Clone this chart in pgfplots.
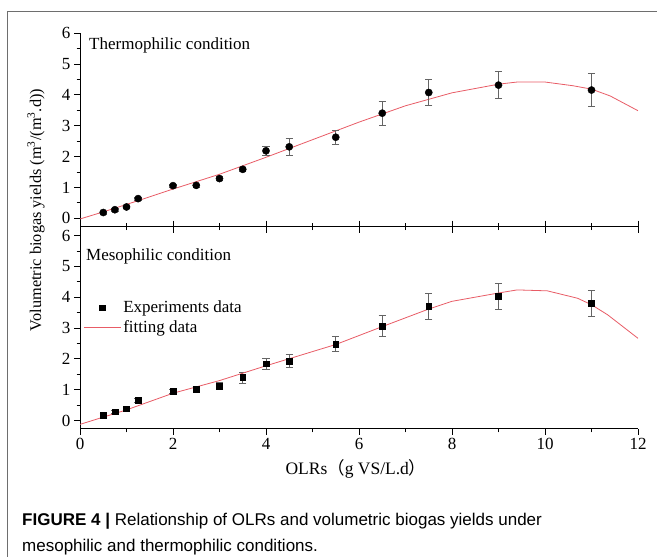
\documentclass[border=0pt]{standalone}
\usepackage{pgfplots}
\pgfplotsset{compat=1.18}
\usepackage{pgfplotstable}
\usepackage{fontspec}
\setmainfont{Liberation Serif}
\newfontfamily\capfont{Liberation Sans}
\newfontfamily\cjk{Noto Sans CJK SC}
\definecolor{fitred}{RGB}{232,92,102}
\definecolor{errgray}{RGB}{100,100,100}
\definecolor{framegray}{RGB}{110,110,110}

\pgfplotstableread{
x y e
0.5 0.19 0.05
0.75 0.28 0.05
1.0 0.37 0.05
1.25 0.64 0.05
2.0 1.06 0.05
2.5 1.07 0.05
3.0 1.29 0.06
3.5 1.59 0.07
4.0 2.19 0.15
4.5 2.32 0.27
5.5 2.63 0.24
6.5 3.41 0.38
7.5 4.08 0.43
9.0 4.32 0.44
11.0 4.16 0.53
}\thermo

\pgfplotstableread{
x y
0 -0.02
0.5 0.21
1 0.45
1.5 0.70
2 0.95
3 1.43
4 1.98
5 2.55
6 3.12
7 3.65
8 4.07
9 4.35
9.4 4.42
10 4.42
10.6 4.30
11 4.19
11.4 3.97
12 3.49
}\thermofit

\pgfplotstableread{
x y e
0.5 0.18 0.05
0.75 0.29 0.05
1.0 0.39 0.05
1.25 0.66 0.05
2.0 0.96 0.06
2.5 1.03 0.07
3.0 1.13 0.10
3.5 1.40 0.18
4.0 1.85 0.18
4.5 1.94 0.22
5.5 2.49 0.23
6.5 3.07 0.35
7.5 3.71 0.42
9.0 4.04 0.42
11.0 3.81 0.42
}\meso

\pgfplotstableread{
x y
0 -0.12
1 0.35
2 0.89
3 1.30
4 1.78
5 2.24
5.5 2.47
6.5 3.05
7.5 3.62
8 3.87
9 4.14
9.4 4.24
10.05 4.21
10.7 3.97
11 3.76
11.35 3.43
12 2.67
}\mesofit

\pgfplotsset{
  panel/.style={
    scale only axis,
    width=558pt,
    xmin=0, xmax=12,
    xtick={0,2,...,12},
    minor x tick num=1,
    ytick={0,1,...,6},
    minor y tick num=1,
    tick align=outside,
    major tick length=6pt,
    minor tick length=3.5pt,
    every tick/.style={black, line width=1pt},
    axis line style={black, line width=1pt},
    tick label style={font=\fontsize{17}{19}\selectfont},
    /pgf/number format/assume math mode=true,
    anchor=south west,
  },
  errs/.style={
    /pgfplots/error bars/y dir=both,
    /pgfplots/error bars/y explicit,
    /pgfplots/error bars/error bar style={errgray, line width=0.6pt},
    /pgfplots/error bars/error mark options={rotate=90, mark size=3.7pt, errgray, line width=0.6pt},
  },
  sqleg/.style={legend image code/.code={\draw[##1] plot[mark=square*, mark size=2.9pt] coordinates {(18.5pt,0pt)};}},
  lnleg/.style={legend image code/.code={\draw[##1] (0pt,0pt) -- (37pt,0pt);}},
}

\begin{document}
\begin{tikzpicture}[x=1pt,y=1pt]
\path[use as bounding box] (0,0) rectangle (657,557);

% top panel: thermophilic
\begin{axis}[panel,
  at={(80pt,330.3pt)},
  height=193.4pt,
  ymin=-0.27, ymax=6,
  axis x line*=bottom, axis y line*=left,
  xticklabels={},
]
\addplot[fitred, line width=0.8pt] table[x=x,y=y] {\thermofit};
\addplot[only marks, mark=*, mark size=3.6pt, black, errs] table[x=x,y=y,y error=e] {\thermo};
\end{axis}

% lower panel: mesophilic
\begin{axis}[panel,
  at={(80pt,128pt)},
  height=202.3pt,
  ymin=-0.27, ymax=6.29,
  axis x line*=box, axis y line*=left,
  xtick pos=both,
  legend cell align=left,
  legend style={draw=none, fill=none, at={(axis cs:0.07,3.95)}, anchor=north west,
    font=\fontsize{17}{19}\selectfont, row sep=2pt, inner sep=0pt,
    nodes={inner sep=2pt}},
]
\addplot[only marks, mark=square*, mark size=2.9pt, black, sqleg, errs]
  table[x=x,y=y,y error=e] {\meso};
\addlegendentry{Experiments data}
\addplot[fitred, line width=0.8pt, lnleg]
  table[x=x,y=y] {\mesofit};
\addlegendentry{fitting data}
\end{axis}

% panel titles
\node[anchor=base west, inner sep=0pt, font=\fontsize{17}{19}\selectfont] at (89,507) {Thermophilic condition};
\node[anchor=base west, inner sep=0pt, font=\fontsize{17}{19}\selectfont] at (86,296) {Mesophilic condition};

% axis labels
\node[rotate=90, inner sep=0pt, font=\fontsize{16.3}{19}\selectfont] at (36,347) {Volumetric biogas yields (m\textsuperscript{3}/(m\textsuperscript{3}.d))};
\node[inner sep=0pt, font=\fontsize{17.5}{20}\selectfont] at (356,88) {OLRs{\cjk （}g VS/L.d{\cjk ）}};

% outer frame
\draw[framegray, line width=1.3pt] (7.5,0) -- (7.5,545.3) -- (657,545.3);

% caption
\node[anchor=base west, inner sep=0pt, font=\capfont\fontsize{17}{20}\selectfont] at (22,31)
  {\textbf{FIGURE 4 |} Relationship of OLRs and volumetric biogas yields under};
\node[anchor=base west, inner sep=0pt, font=\capfont\fontsize{17}{20}\selectfont] at (22,5)
  {mesophilic and thermophilic conditions.};
\end{tikzpicture}
\end{document}
